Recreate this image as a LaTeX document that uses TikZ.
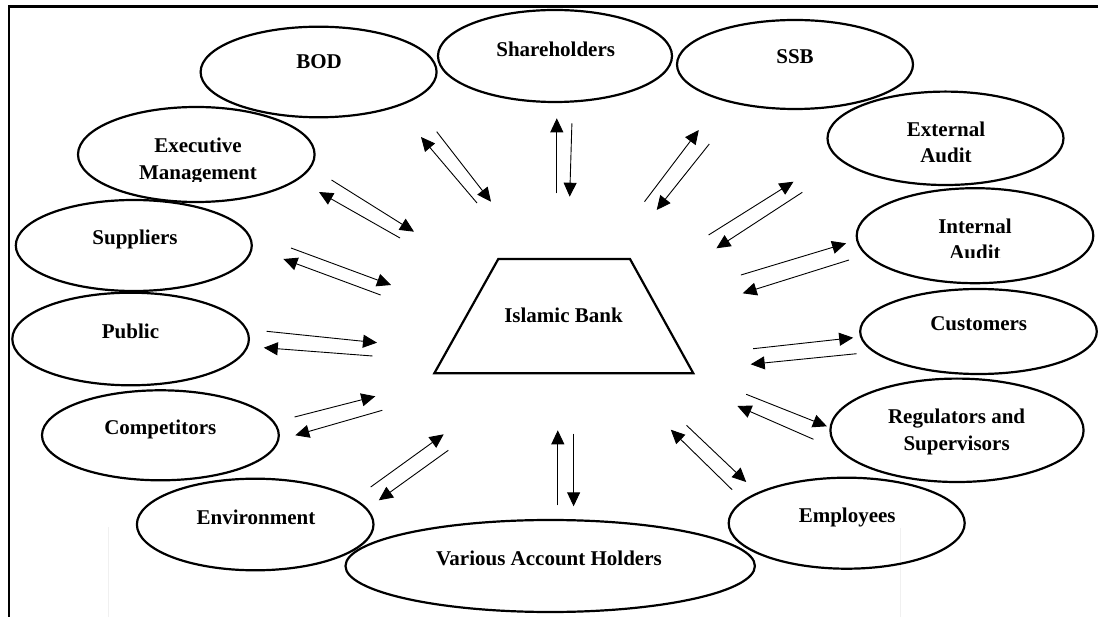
\documentclass[tikz,border=0pt]{standalone}
\usepackage{fontspec}
\setmainfont{Liberation Serif}
\usetikzlibrary{shapes.geometric,arrows.meta}
\begin{document}
\begin{tikzpicture}[x=1pt,y=-1pt,
  stake/.style={ellipse, draw, line width=2.2pt, inner sep=0pt},
  esize/.style 2 args={minimum width=#1pt, minimum height=#2pt},
  lbl/.style={anchor=base, inner sep=0pt, font=\fontsize{21}{26}\selectfont\bfseries},
  flow/.style={line width=0.9pt, -{Triangle[length=14pt,width=13pt]}},
  frame/.style={line width=2.4pt},
  faint/.style={draw=black!6, line width=0.8pt}
]
\useasboundingbox (0,0) rectangle (1098,617);

% open frame: top and left edges
\draw[frame] (1098,6.7) -- (8.8,6.7) -- (8.8,617);

% faint background marks
\draw[faint] (108,527) -- (108,617);
\draw[faint] (900.5,528) -- (900.5,617);

% stakeholder ellipses
\node[stake, esize={236}{90.6}] (bod)   at (318.6,72)    {};
\node[stake, esize={234}{92}]   (share) at (555,56)      {};
\node[stake, esize={236}{89}]   (ssb)   at (795,64.5)    {};
\node[stake, esize={236.6}{95}] (exec)  at (196.3,154.5) {};
\node[stake, esize={236}{93.4}] (ext)   at (945.5,138.3) {};
\node[stake, esize={236}{91}]   (sup)   at (133.8,245.5) {};
\node[stake, esize={236.6}{95}] (int)   at (975,235.7)   {};
\node[stake, esize={236.6}{92.6}] (pub) at (130.6,339)   {};
\node[stake, esize={236.6}{85}] (cust)  at (978.5,331.5) {};
\node[stake, esize={236.8}{90}] (comp)  at (160.4,435.3) {};
\node[stake, esize={253.2}{103.4}] (reg) at (957,430.3)  {};
\node[stake, esize={236.6}{91.6}] (env) at (255.2,524.5) {};
\node[stake, esize={236}{91}]   (emp)   at (846.7,523.2) {};
\node[stake, esize={409.4}{92}] (vah)   at (550.2,566)   {};

% the bank in the middle
\draw[line width=2.2pt, line join=miter]
  (498.3,259) -- (630,259) -- (693.3,373.3) -- (434.3,373.3) -- cycle;
\node[lbl] (bank) at (563.5,323) {Islamic Bank};

% labels
\node[lbl] (bodt)   at (319,69)    {BOD};
\node[lbl] (sharet) at (555.7,57)  {Shareholders};
\node[lbl] (ssbt)   at (795,64)    {SSB};
\node[lbl] (exect)  at (198,153)   {Executive};
\begin{scope}
  \clip (100,160) rectangle (300,182);
  \node[lbl] (exect2) at (198,179.5) {Management};
\end{scope}
\node[lbl] (supt)   at (135,245)   {Suppliers};
\node[lbl] (extt)   at (946,137)   {External};
\begin{scope}
  \clip (880,140) rectangle (1010,161.3);
  \node[lbl] (extt2) at (946,163) {Audit};
\end{scope}
\node[lbl] (intt)   at (975,233.5) {Internal};
\begin{scope}
  \clip (900,238) rectangle (1050,257.6);
  \node[lbl] (intt2) at (975,259.5) {Audit};
\end{scope}
\node[lbl] (pubt)   at (130.5,339)   {Public};
\node[lbl] (custt)  at (978.7,330.7) {Customers};
\node[lbl] (compt)  at (160.3,434.7) {Competitors};
\node[lbl] (regt)   at (956.6,424)   {Regulators and};
\node[lbl] (regt2)  at (956.6,450.7) {Supervisors};
\node[lbl] (envt)   at (256,524)     {Environment};
\node[lbl] (empt)   at (847.2,522.3) {Employees};
\node[lbl] (vaht)   at (549,565.7)   {Various Account Holders};

% paired flows between each stakeholder and the bank
\foreach \n/\ax/\ay/\bx/\by in {
  bodA/477/203/421/137,        bodB/436.7/131.7/491/201.7,
  execA/400/238/319/192,       execB/331.5/180/414/231.7,
  supA/291/248/391/285,        supB/380.6/295/283.4/259,
  pubA/266.6/331.3/377/342.7,  pubB/372.5/356/263.8/347.7,
  compA/294.6/417/375.3/396.3, compB/382.3/410.3/295.3/435.3,
  envA/370.7/487/443.7/434.3,  envB/448.3/450.3/378.8/500.3,
  vahA/557.8/505.3/557.8/430.3, vahB/573.6/433.7/573.6/506.3,
  empA/732.1/489.7/670.8/429.7, empB/686.5/425.3/746.2/482,
  regA/746.2/394.3/826.9/426.3, regB/813.5/439.3/737.4/406,
  custA/753.2/348.7/853.2/337.7, custB/856.7/353.7/750.7/364.3,
  intA/740.9/275/846.1/243.3,  intB/849/260/742.7/293.3,
  extA/708.6/235/793.5/181.7,  extB/802.3/192.3/716.4/248.3,
  ssbA/644.5/201.7/698.8/130,  ssbB/709.3/144/656.7/210,
  shareA/556.8/193.3/556.8/118.3, shareB/571.9/123.3/569.7/196.7}
{
  \coordinate (\n-s) at (\ax,\ay);
  \coordinate (\n-e) at (\bx,\by);
  \draw[flow] (\n-s) -- (\n-e);
}
\end{tikzpicture}
\end{document}
